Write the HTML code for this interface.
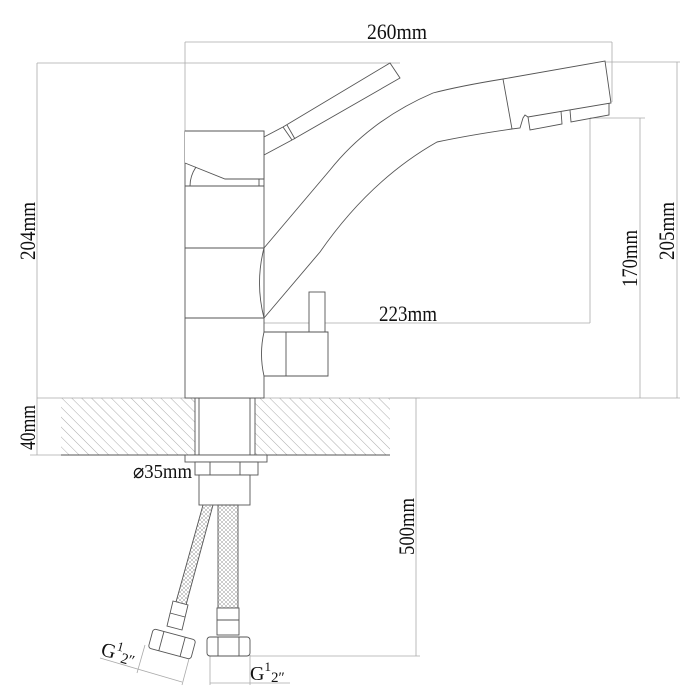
<!DOCTYPE html>
<html><head><meta charset="utf-8"><style>
html,body{margin:0;padding:0;background:#fff}
svg{display:block}
text{font-family:"Liberation Serif",serif;fill:#111}
</style></head><body>
<svg width="700" height="700" viewBox="0 0 700 700" xmlns="http://www.w3.org/2000/svg">
<defs>
<pattern id="h" width="7" height="7" patternUnits="userSpaceOnUse" patternTransform="rotate(-45)">
<line x1="0" y1="0" x2="0" y2="7" stroke="#888" stroke-width="0.7"/>
</pattern>
<pattern id="br" width="4" height="4" patternUnits="userSpaceOnUse">
<path d="M0 0 L4 4 M4 0 L0 4" stroke="#999" stroke-width="0.5"/>
</pattern>
</defs>
<g fill="none" stroke="#aaa" stroke-width="0.8">
<line x1="185" y1="42" x2="612" y2="42"/>
<line x1="185" y1="42" x2="185" y2="131"/>
<line x1="612" y1="42" x2="612" y2="102"/>
<line x1="37" y1="63" x2="400" y2="63"/>
<line x1="37" y1="63" x2="37" y2="455"/>
<line x1="37" y1="398" x2="680" y2="398"/>
<line x1="605" y1="62" x2="680" y2="62"/>
<line x1="677" y1="62" x2="677" y2="398"/>
<line x1="590" y1="118" x2="645" y2="118"/>
<line x1="640" y1="118" x2="640" y2="398"/>
<line x1="590" y1="118" x2="590" y2="323"/>
<line x1="227" y1="323" x2="590" y2="323"/>
<line x1="227" y1="323" x2="227" y2="398"/>
<line x1="30" y1="455" x2="61" y2="455"/>
<line x1="390" y1="398" x2="420" y2="398"/>
<line x1="416" y1="398" x2="416" y2="656"/>
<line x1="250" y1="656" x2="420" y2="656"/>
<line x1="210" y1="655" x2="210" y2="685"/>
<line x1="250" y1="655" x2="250" y2="685"/>
<line x1="210" y1="683" x2="290" y2="683"/>
<line x1="145" y1="645" x2="137" y2="673"/>
<line x1="190" y1="655" x2="182" y2="685"/>
<line x1="100" y1="658" x2="182" y2="682"/>
</g>
<rect x="61" y="398" width="134" height="57" fill="url(#h)"/>
<rect x="255" y="398" width="135" height="57" fill="url(#h)"/>
<g fill="none" stroke="#555" stroke-width="0.9">
<line x1="61" y1="455" x2="390" y2="455"/>
<rect x="195" y="398" width="60" height="57"/>
<rect x="199" y="398" width="51" height="57"/>
<rect x="185" y="131" width="79" height="267" fill="#fff"/>
<path d="M185 131 H264 V179 H225 L185 163" fill="#fff"/>
<line x1="185" y1="186" x2="264" y2="186"/>
<line x1="185" y1="248" x2="264" y2="248"/>
<line x1="185" y1="318" x2="264" y2="318"/>
<path d="M190 186 Q190 176 196 167 M259 186 V179"/>
<path d="M264 137 L283 127 M264 155 L292 140"/>
<path d="M283 127 L292 140"/>
<path d="M287 125 L295 139"/>
<path d="M283 127 L390 63 L400 78 L292 140"/>
<path d="M264 248 Q255 283 264 318" />
<path d="M264 248 L330 170 Q370 120 433 93 Q460 86 503 79"/>
<path d="M264 318 L320 252 Q370 180 437 142 Q470 135 512 129"/>
<path d="M503 79 L605 61 L611 103 L528 117 L525 115 L523 118 L520 128 L512 129 Z" fill="#fff"/>
<path d="M528 117 L530 130 L562 124 L561 111"/>
<path d="M570 110 L571 122 L609 115 L609 103"/>
<rect x="309" y="292" width="16" height="40" fill="#fff"/>
<path d="M264 332 H328 V376 H264 Q259 354 264 332 Z" fill="#fff"/>
<line x1="286" y1="332" x2="286" y2="376"/>
<rect x="185" y="455" width="82" height="7" fill="#fff"/>
<rect x="195" y="462" width="63" height="13" fill="#fff"/>
<line x1="210" y1="462" x2="210" y2="475"/>
<line x1="240" y1="462" x2="240" y2="475"/>
<rect x="199" y="475" width="51" height="30" fill="#fff"/>
<rect x="218" y="505" width="20" height="103" fill="url(#br)"/>
<rect x="217" y="608" width="22" height="27" fill="#fff"/>
<line x1="217" y1="620" x2="239" y2="620"/>
<rect x="207" y="637" width="43" height="19" rx="3" fill="#fff"/>
<line x1="218" y1="637" x2="218" y2="656"/>
<line x1="239" y1="637" x2="239" y2="656"/>
<path d="M213 505 L186 605 L176 602 L203 505" fill="url(#br)"/>
<path d="M188 605 L182 630 L167 626 L173 601 Z" fill="#fff"/>
<line x1="170" y1="613" x2="185" y2="617"/>
<g transform="translate(172,644) rotate(15)">
<rect x="-22" y="-10" width="44" height="20" rx="3" fill="#fff"/>
<line x1="-11" y1="-10" x2="-11" y2="10"/>
<line x1="11" y1="-10" x2="11" y2="10"/>
</g>
</g>
<text x="367" y="39" font-size="22" textLength="60" lengthAdjust="spacingAndGlyphs">260mm</text>
<text x="379" y="321" font-size="22" textLength="58" lengthAdjust="spacingAndGlyphs">223mm</text>
<text transform="translate(35,260) rotate(-90)" font-size="22" textLength="58" lengthAdjust="spacingAndGlyphs">204mm</text>
<text transform="translate(35,450) rotate(-90)" font-size="22" textLength="45" lengthAdjust="spacingAndGlyphs">40mm</text>
<text transform="translate(637,287) rotate(-90)" font-size="22" textLength="57" lengthAdjust="spacingAndGlyphs">170mm</text>
<text transform="translate(674,260) rotate(-90)" font-size="22" textLength="58" lengthAdjust="spacingAndGlyphs">205mm</text>
<text transform="translate(414,555) rotate(-90)" font-size="22" textLength="57" lengthAdjust="spacingAndGlyphs">500mm</text>
<text x="133" y="478" font-size="20" textLength="59" lengthAdjust="spacingAndGlyphs">⌀35mm</text>
<text x="250" y="680" font-size="20">G<tspan font-size="13" dy="-9">1</tspan><tspan font-size="15" dy="11">2″</tspan></text>
<text transform="translate(100,655) rotate(15)" font-size="20">G<tspan font-size="13" dy="-9">1</tspan><tspan font-size="15" dy="11">2″</tspan></text>
</svg>
</body></html>
